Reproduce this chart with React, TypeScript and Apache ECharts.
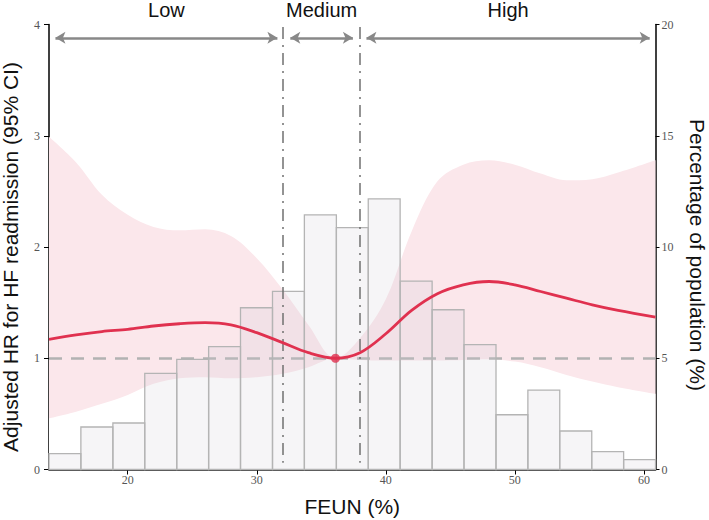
import React, { useEffect, useRef } from "react";
import * as echarts from "echarts";

// Spline x grid (FEUN %)
const xGrid = [13.9, 16, 18, 20, 22, 24, 26, 28, 30, 32, 34, 36.1, 38, 40, 42, 44, 46, 48, 50, 52, 54, 56, 58, 60.9];
// Adjusted HR and 95% CI
const hrValues = [1.17, 1.21, 1.24, 1.26, 1.29, 1.31, 1.32, 1.3, 1.23, 1.14, 1.05, 1.0, 1.05, 1.22, 1.43, 1.58, 1.66, 1.69, 1.66, 1.6, 1.54, 1.48, 1.43, 1.37];
const upperCI = [2.99, 2.76, 2.47, 2.29, 2.18, 2.15, 2.16, 2.1, 1.9, 1.62, 1.3, 1.0, 1.18, 1.53, 2.14, 2.59, 2.74, 2.78, 2.74, 2.66, 2.6, 2.61, 2.67, 2.78];
const lowerCI = [0.46, 0.52, 0.59, 0.67, 0.77, 0.82, 0.83, 0.82, 0.83, 0.86, 0.92, 1.0, 0.985, 0.98, 0.98, 0.98, 0.985, 0.99, 0.97, 0.92, 0.85, 0.79, 0.74, 0.68];
// Reference point
const refPoint = [36.1, 1.0];

// Histogram (percentage of population)
const binEdges = [13.9, 16.37, 18.85, 21.32, 23.8, 26.27, 28.74, 31.22, 33.69, 36.17, 38.64, 41.11, 43.59, 46.06, 48.54, 51.01, 53.48, 55.96, 58.43, 60.9];
const binPct = [0.71, 1.91, 2.09, 4.32, 4.95, 5.52, 7.27, 8.01, 11.44, 10.87, 12.16, 8.47, 7.18, 5.61, 2.46, 3.57, 1.73, 0.8, 0.44];

// Cut-offs and groups
const cutoffs = [32, 38];
const groups = [
  { name: "Low", from: 14.4, to: 31.6 },
  { name: "Medium", from: 32.6, to: 37.45 },
  { name: "High", from: 38.5, to: 60.45 },
];
const arrowLevel = 3.88;

const xTicks = [20, 30, 40, 50, 60];
const RED = "#e0314f";

export default function App() {
  const ref = useRef<HTMLDivElement>(null);
  useEffect(() => {
    if (!ref.current) return;
    const chart = echarts.init(ref.current, null, { renderer: "svg" });

    const bars = binPct.map((p, i) => [binEdges[i], binEdges[i + 1], p]);
    const lowerData = xGrid.map((x, i) => [x, lowerCI[i]]);
    const upperData = xGrid.map((x, i) => [x, upperCI[i]]);
    const hrData = xGrid.map((x, i) => [x, hrValues[i]]);

    const tickFont = { fontFamily: "Liberation Serif", fontSize: 12, color: "#555" };
    const nameFont = { fontFamily: "Liberation Sans", fontSize: 21, color: "#111" };
    const axisLine = { show: true, lineStyle: { color: "#000", width: 1.5 } };
    const axisTick = { show: true, length: 5, lineStyle: { color: "#000", width: 1 } };

    const option: any = {
      animation: false,
      backgroundColor: "#fff",
      grid: { left: 49, right: 53.5, top: 24.5, bottom: 50.5, containLabel: false, outerBoundsMode: "none" },
      xAxis: {
        type: "value",
        min: 13.9,
        max: 60.9,
        name: "FEUN (%)",
        nameLocation: "middle",
        nameGap: 26,
        nameTextStyle: nameFont,
        axisLine,
        axisTick: { ...axisTick, customValues: xTicks },
        axisLabel: { ...tickFont, margin: 4, customValues: xTicks },
        splitLine: { show: false },
      },
      yAxis: [
        {
          type: "value",
          min: 0,
          max: 4,
          interval: 1,
          position: "left",
          name: "Adjusted HR for HF readmission (95% CI)",
          nameLocation: "middle",
          nameGap: 28,
          nameTextStyle: { ...nameFont, padding: [0, 20, 0, 0] },
          axisLine,
          axisTick,
          axisLabel: { ...tickFont, margin: 9 },
          splitLine: { show: false },
        },
        {
          type: "value",
          min: 0,
          max: 20,
          interval: 5,
          position: "right",
          name: "Percentage of population (%)",
          nameLocation: "middle",
          nameRotate: -90,
          nameGap: 31,
          nameTextStyle: { ...nameFont, padding: [0, 0, 0, 16] },
          axisLine,
          axisTick: { ...axisTick, length: 4 },
          axisLabel: { ...tickFont, margin: 6 },
          splitLine: { show: false },
        },
      ],
      series: [
        // CI band: pink area up to the upper bound ...
        {
          type: "line",
          name: "upper",
          yAxisIndex: 0,
          smooth: 0.35,
          symbol: "none",
          z: 1,
          silent: true,
          lineStyle: { opacity: 0 },
          areaStyle: { color: "#fbe7eb", opacity: 1, origin: "start" },
          data: upperData,
        },
        // ... masked in white below the lower bound
        {
          type: "line",
          name: "lower",
          yAxisIndex: 0,
          smooth: 0.35,
          symbol: "none",
          z: 1.5,
          silent: true,
          lineStyle: { opacity: 0 },
          areaStyle: { color: "#ffffff", opacity: 1, origin: "start" },
          data: lowerData,
          markLine: {
            silent: true,
            z: 2,
            symbol: "none",
            label: { show: false },
            lineStyle: { type: [13, 9], color: "#b2b2b2", width: 2.5 },
            data: [{ yAxis: 1 }],
          },
        },
        {
          type: "custom",
          name: "population",
          yAxisIndex: 1,
          z: 3,
          silent: true,
          encode: { x: [0, 1], y: 2 },
          data: bars,
          renderItem: (params: any, api: any) => {
            const p0 = api.coord([api.value(0), 0]);
            const p1 = api.coord([api.value(1), api.value(2)]);
            return {
              type: "rect",
              shape: { x: p0[0], y: p1[1], width: p1[0] - p0[0], height: p0[1] - p1[1] },
              style: { fill: "rgba(208,203,214,0.2)", stroke: "#b4b4b4", lineWidth: 1.3 },
            };
          },
        },
        {
          type: "line",
          name: "HR",
          yAxisIndex: 0,
          smooth: 0.35,
          symbol: "none",
          z: 5,
          silent: true,
          lineStyle: { color: RED, width: 2.8 },
          data: hrData,
          markLine: {
            silent: true,
            z: 4,
            symbol: "none",
            label: { show: false },
            lineStyle: { type: [12, 6, 2, 6], color: "#707070", width: 1.5 },
            data: cutoffs.map((c) => [{ coord: [c, 3.977] }, { coord: [c, 0.061] }]),
          },
        },
        {
          type: "scatter",
          name: "ref",
          yAxisIndex: 0,
          z: 6,
          silent: true,
          symbolSize: 9,
          itemStyle: { color: RED },
          data: [refPoint],
          markLine: {
            silent: true,
            z: 6,
            symbol: ["arrow", "arrow"],
            symbolSize: [9, 10],
            lineStyle: { type: "solid", color: "#888", width: 2.5 },
            label: {
              show: true,
              position: "middle",
              distance: 18,
              formatter: "{b}",
              fontFamily: "Liberation Sans",
              fontSize: 20,
              color: "#111",
            },
            data: groups.map((g) => [
              { name: g.name, coord: [g.from, arrowLevel] },
              { coord: [g.to, arrowLevel] },
            ]),
          },
        },
      ],
    };
    chart.setOption(option);
    return () => chart.dispose();
  }, []);
  return <div ref={ref} style={{ position: "absolute", left: 0, top: 0, width: 709, height: 520 }} />;
}
